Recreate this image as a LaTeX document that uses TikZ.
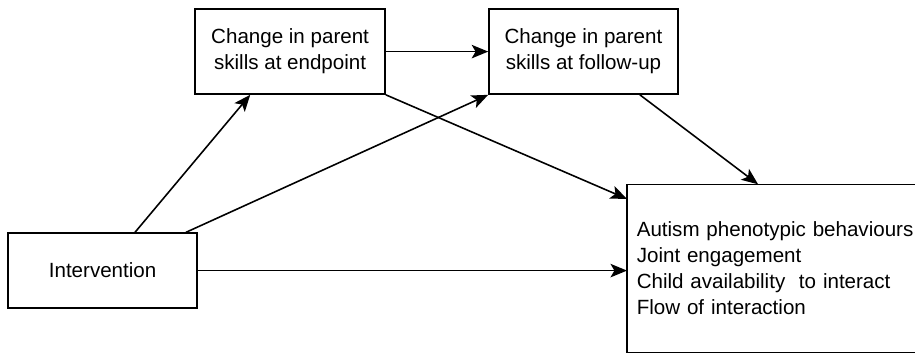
\documentclass[tikz,border=0pt]{standalone}
\usepackage{fontspec}
\setmainfont{Liberation Sans}
\usepackage{tikz}
\usetikzlibrary{arrows.meta}

\begin{document}
\begin{tikzpicture}[
    box/.style={draw, line width=1.5pt, rectangle, align=center, inner sep=0pt,
                font=\fontsize{19.5}{24.6}\selectfont},
    link/.style={line width=1.5pt, -{Stealth[length=0.55cm, width=0.45cm, inset=0.13cm]}}
  ]
                  % Fix the frame
                  \useasboundingbox (0,0) rectangle (30.5,11.8);
                  \coordinate (edge) at (30.5,0);

                  % Define boxes
                  \node[box, minimum width=6.33cm, minimum height=2.83cm] (endp) at (9.67,10.08)
                      {Change in parent\\skills at endpoint};
                  \node[box, minimum width=6.3cm, minimum height=2.83cm] (follow) at (19.45,10.08)
                      {Change in parent\\skills at follow-up};
                  \node[box, minimum width=6.3cm, minimum height=2.5cm] (interv) at (3.42,2.78)
                      {Intervention};
                  \node[box, draw=none, anchor=west, minimum height=5.56cm, inner xsep=0.3cm,
                        text width=10.5cm, align=left] (outcome) at (20.9,2.85)
                      {Autism phenotypic behaviours\\Joint engagement\\Child availability\ \ to interact\\Flow of interaction};

                  % Outcome box runs off the right side
                  \draw[line width=1.5pt] (outcome.north west -| edge) -- (outcome.north west)
                      -- (outcome.south west) -- (outcome.south west -| edge);

                  % Draw the arrows
                  \draw[link] (endp.east) -- (follow.west);
                  \draw[link] ([xshift=1.08cm]interv.north) -- ([xshift=-1.33cm]endp.south);
                  \draw[link] ([xshift=2.78cm]interv.north) -- (follow.south west);
                  \draw[link] (endp.south east) -- ([yshift=2.32cm]outcome.west);
                  \draw[link] ([xshift=1.88cm]follow.south) -- ([xshift=4.37cm]outcome.north west);
                  \draw[link] (interv.east) -- (interv.east -| outcome.west);

              \end{tikzpicture}
\end{document}
